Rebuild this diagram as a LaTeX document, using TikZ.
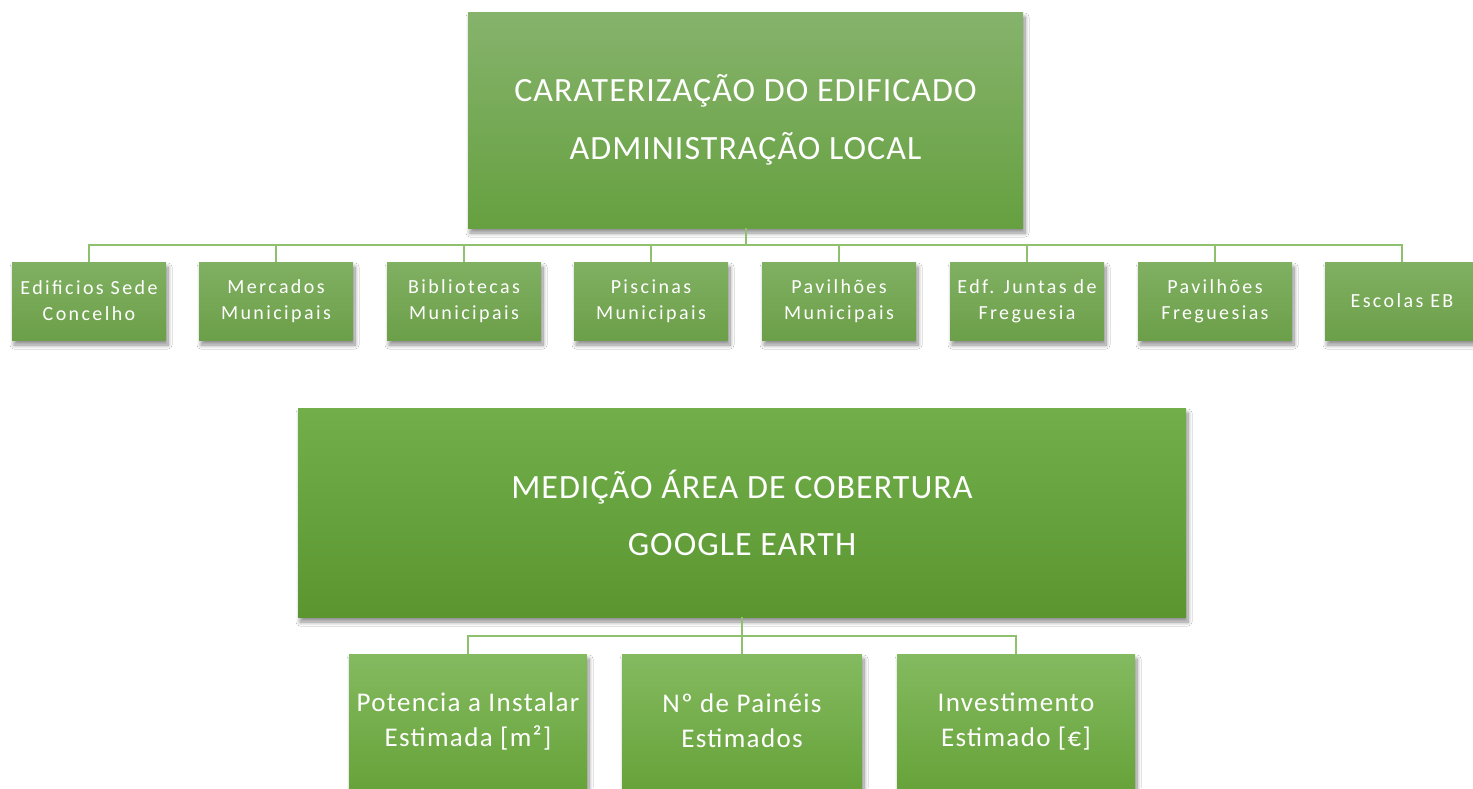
\documentclass[tikz,border=0pt]{standalone}
\usepackage{fontspec}
\setmainfont{Carlito}
\newfontfamily\widefont[LetterSpace=12]{Carlito}
\newfontfamily\midwide[LetterSpace=5]{Carlito}
\newfontfamily\bigwide[LetterSpace=3]{Carlito}
\usetikzlibrary{shadows.blur}
\definecolor{gtop}{HTML}{86B36C}
\definecolor{gbot}{HTML}{66A040}
\definecolor{stop}{HTML}{80B062}
\definecolor{sbot}{HTML}{6C9F49}
\definecolor{btop}{HTML}{72AF4A}
\definecolor{bbot}{HTML}{5A9530}
\definecolor{ctop}{HTML}{84BA60}
\definecolor{cbot}{HTML}{67A33A}
\definecolor{conncol}{HTML}{8FC06E}
\tikzset{
  box/.style={rectangle, draw=none, text=white, align=center, inner sep=0pt,
    blur shadow={shadow xshift=2pt, shadow yshift=-5pt, shadow blur radius=4pt, shadow blur steps=10, shadow opacity=45}},
  bigbox/.style={box, top color=gtop, bottom color=gbot, font=\bigwide\fontsize{34}{58}\selectfont},
  smallbox/.style={box, top color=stop, bottom color=sbot, minimum width=154pt, minimum height=78pt,
    font=\widefont\fontsize{20}{26}\selectfont},
  midbox/.style={box, top color=btop, bottom color=bbot, font=\bigwide\fontsize{34}{57}\selectfont},
  leafbox/.style={box, top color=ctop, bottom color=cbot, minimum width=238pt, minimum height=134pt,
    font=\midwide\fontsize{27}{35}\selectfont},
  conn/.style={draw=conncol, line width=2pt}
}
\begin{document}
\begin{tikzpicture}[x=1pt,y=-1pt]
\useasboundingbox (0,0) rectangle (1473,788);
\fill[white] (0,0) rectangle (1473,788);

\node[bigbox, minimum width=555pt, minimum height=216pt] (top) at (745.5,120)
  {CARATERIZAÇÃO DO EDIFICADO\\ADMINISTRAÇÃO LOCAL};

\node[smallbox] (c1) at (89,301) {Edificios Sede\\Concelho};
\node[smallbox] (c2) at (276,301) {Mercados\\Municipais};
\node[smallbox] (c3) at (464,301) {Bibliotecas\\Municipais};
\node[smallbox] (c4) at (651,301) {Piscinas\\Municipais};
\node[smallbox] (c5) at (839,301) {Pavilhões\\Municipais};
\node[smallbox] (c6) at (1027,301) {Edf. Juntas de\\Freguesia};
\node[smallbox] (c7) at (1215,301) {Pavilhões\\Freguesias};
\node[smallbox] (c8) at (1402,301) {Escolas EB};

\foreach \c in {c1,c2,c3,c4,c5,c6,c7,c8}
  \draw[conn] (top.south) -- ++(0,17) -| (\c.north);

\node[midbox, minimum width=888pt, minimum height=209pt] (mid) at (742,512.5)
  {MEDIÇÃO ÁREA DE COBERTURA\\GOOGLE EARTH};

\node[leafbox] (l1) at (468,721) {Potencia a Instalar\\Estimada [m²]};
\node[leafbox, minimum width=240pt] (l2) at (742,721) {Nº de Painéis\\Estimados};
\node[leafbox] (l3) at (1016,721) {Investimento\\Estimado [€]};

\foreach \c in {l1,l2,l3}
  \draw[conn] (mid.south) -- ++(0,19) -| (\c.north);
\end{tikzpicture}
\end{document}
